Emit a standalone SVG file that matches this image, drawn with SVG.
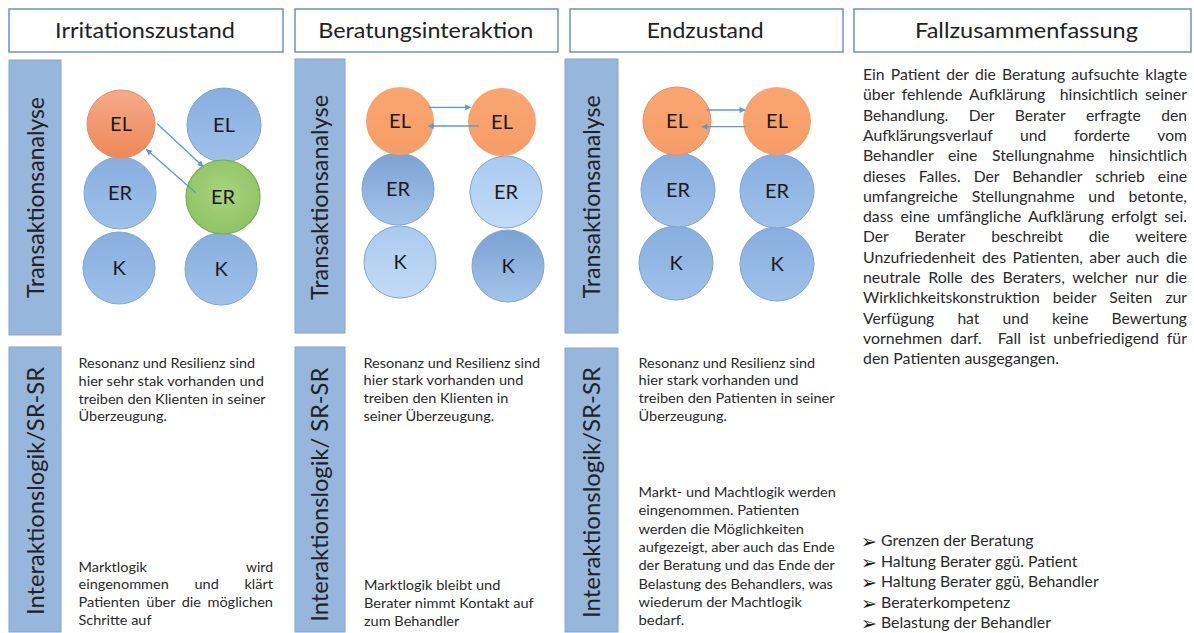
<svg xmlns="http://www.w3.org/2000/svg" width="1194" height="633" viewBox="0 0 1194 633">
  <defs>
    <linearGradient id="gBlue" x1="0" y1="0" x2="0" y2="1">
      <stop offset="0" stop-color="#88AEDF"/>
      <stop offset="1" stop-color="#9FC1EA"/>
    </linearGradient>
    <linearGradient id="gBlueDark" x1="0" y1="0" x2="0" y2="1">
      <stop offset="0" stop-color="#7CA2D3"/>
      <stop offset="1" stop-color="#A3C4EB"/>
    </linearGradient>
    <linearGradient id="gBlueLight" x1="0" y1="0" x2="0" y2="1">
      <stop offset="0" stop-color="#A9CAEF"/>
      <stop offset="1" stop-color="#C2DBF6"/>
    </linearGradient>
    <linearGradient id="gOrange" x1="0" y1="0" x2="0" y2="1">
      <stop offset="0" stop-color="#F6AA8A"/>
      <stop offset="1" stop-color="#EE8857"/>
    </linearGradient>
    <linearGradient id="gOrangeFlat" x1="0" y1="0" x2="0" y2="1">
      <stop offset="0" stop-color="#F9A673"/>
      <stop offset="1" stop-color="#F79C66"/>
    </linearGradient>
    <radialGradient id="gGreen" cx="0.5" cy="0.45" r="0.6">
      <stop offset="0" stop-color="#A8D47F"/>
      <stop offset="1" stop-color="#8DC263"/>
    </radialGradient>
    <marker id="arr" viewBox="0 0 10 10" refX="9" refY="5" markerWidth="7" markerHeight="6" orient="auto" markerUnits="userSpaceOnUse">
      <path d="M0,0 L10,5 L0,10 z" fill="#5B9BD5"/>
    </marker>
  </defs>
  <style>
    .hdr { fill: #ffffff; stroke: #6F8FC9; stroke-width: 1.5; }
    .bar { fill: #97B6DC; stroke: #86A6D0; stroke-width: 1; }
    .ht { font-family: Lato, "Liberation Sans", sans-serif; font-size: 22px; fill: #222222; }
    .vt { font-family: Lato, "Liberation Sans", sans-serif; font-size: 23px; fill: #222222; }
    .cl { font-family: Lato, "Liberation Sans", sans-serif; font-size: 20px; fill: #1A1A1A; text-anchor: middle; }
    .cb { stroke: #7EA4D6; stroke-width: 1; }
    .co { stroke: #E48E6A; stroke-width: 1; }
    .cg { stroke: #7AAD50; stroke-width: 1.2; }
    .bt { font-family: Lato, "Liberation Sans", sans-serif; font-size: 14px; fill: #2A2A2A; }
    .ft { font-family: Lato, "Liberation Sans", sans-serif; font-size: 15px; fill: #2A2A2A; }
    .bul { font-family: "DejaVu Sans", sans-serif; font-size: 19px; fill: #1A1A1A; }
    .conn { stroke: #5B9BD5; stroke-width: 1.3; fill: none; marker-end: url(#arr); }
  </style>

  <!-- column headers -->
  <g id="hdr-irritation">
    <rect class="hdr" x="9" y="9" width="274" height="43"/>
    <text class="ht" x="55" y="38" textLength="180" lengthAdjust="spacingAndGlyphs">Irritationszustand</text>
  </g>
  <g id="hdr-beratung">
    <rect class="hdr" x="295" y="9" width="263" height="43"/>
    <text class="ht" x="318.3" y="38" textLength="215" lengthAdjust="spacingAndGlyphs">Beratungsinteraktion</text>
  </g>
  <g id="hdr-end">
    <rect class="hdr" x="570" y="9" width="273" height="43"/>
    <text class="ht" x="646.7" y="38" textLength="117" lengthAdjust="spacingAndGlyphs">Endzustand</text>
  </g>
  <g id="hdr-fall">
    <rect class="hdr" x="854" y="9" width="337" height="43"/>
    <text class="ht" x="915" y="38" textLength="223" lengthAdjust="spacingAndGlyphs">Fallzusammenfassung</text>
  </g>

  <!-- row labels -->
  <g id="row-ta-1">
    <rect class="bar" x="9" y="60" width="52" height="275"/>
    <text class="vt" transform="translate(43.5,298) rotate(-90)" textLength="201" lengthAdjust="spacingAndGlyphs">Transaktionsanalyse</text>
  </g>
  <g id="row-ta-2">
    <rect class="bar" x="295" y="59" width="50" height="274"/>
    <text class="vt" transform="translate(328,300) rotate(-90)" textLength="205" lengthAdjust="spacingAndGlyphs">Transaktionsanalyse</text>
  </g>
  <g id="row-ta-3">
    <rect class="bar" x="565" y="59" width="53" height="274"/>
    <text class="vt" transform="translate(600,298.3) rotate(-90)" textLength="203" lengthAdjust="spacingAndGlyphs">Transaktionsanalyse</text>
  </g>
  <g id="row-il-1">
    <rect class="bar" x="9" y="347" width="52" height="285"/>
    <text class="vt" transform="translate(43.5,615) rotate(-90)" textLength="248" lengthAdjust="spacingAndGlyphs">Interaktionslogik/SR-SR</text>
  </g>
  <g id="row-il-2">
    <rect class="bar" x="295" y="347" width="50" height="285"/>
    <text class="vt" transform="translate(328,621.7) rotate(-90)" textLength="254" lengthAdjust="spacingAndGlyphs">Interaktionslogik/ SR-SR</text>
  </g>
  <g id="row-il-3">
    <rect class="bar" x="565" y="348" width="53" height="284"/>
    <text class="vt" transform="translate(600,618) rotate(-90)" textLength="251" lengthAdjust="spacingAndGlyphs">Interaktionslogik/SR-SR</text>
  </g>

  <!-- ego states: Irritationszustand -->
  <g id="p1-el-b"><circle class="cb" cx="224" cy="125" r="37" fill="url(#gBlue)"/><text class="cl" x="224" y="132">EL</text></g>
  <g id="p1-er-a"><circle class="cb" cx="120" cy="193" r="36" fill="url(#gBlue)"/><text class="cl" x="120" y="200">ER</text></g>
  <g id="p1-k-a"><circle class="cb" cx="119" cy="268" r="36" fill="url(#gBlue)"/><text class="cl" x="119" y="275">K</text></g>
  <g id="p1-k-b"><circle class="cb" cx="221" cy="269" r="36" fill="url(#gBlue)"/><text class="cl" x="221" y="276">K</text></g>
  <g id="p1-el-a"><circle class="co" cx="121" cy="124" r="34" fill="url(#gOrange)"/><text class="cl" x="121" y="131">EL</text></g>
  <g id="p1-er-b"><circle class="cg" cx="223" cy="197" r="37" fill="url(#gGreen)"/><text class="cl" x="223" y="204">ER</text></g>

  <!-- ego states: Beratungsinteraktion -->
  <g id="p2-er-a"><circle class="cb" cx="398" cy="189" r="36" fill="url(#gBlueDark)"/><text class="cl" x="398" y="196">ER</text></g>
  <g id="p2-er-b"><circle class="cb" cx="506" cy="192" r="36" fill="url(#gBlueLight)"/><text class="cl" x="506" y="199">ER</text></g>
  <g id="p2-k-a"><circle class="cb" cx="400" cy="262" r="36" fill="url(#gBlueLight)"/><text class="cl" x="400" y="269">K</text></g>
  <g id="p2-k-b"><circle class="cb" cx="508" cy="266" r="36" fill="url(#gBlueDark)"/><text class="cl" x="508" y="273">K</text></g>
  <g id="p2-el-a"><circle cx="400" cy="121" r="34" fill="url(#gOrangeFlat)"/><text class="cl" x="400" y="128">EL</text></g>
  <g id="p2-el-b"><circle cx="502" cy="122" r="34" fill="url(#gOrangeFlat)"/><text class="cl" x="502" y="129">EL</text></g>

  <!-- ego states: Endzustand -->
  <g id="p3-k-a"><circle class="cb" cx="676" cy="263" r="37" fill="url(#gBlue)"/><text class="cl" x="676" y="270">K</text></g>
  <g id="p3-k-b"><circle class="cb" cx="777" cy="264" r="37" fill="url(#gBlue)"/><text class="cl" x="777" y="271">K</text></g>
  <g id="p3-er-a"><circle class="cb" cx="678" cy="190" r="37" fill="url(#gBlue)"/><text class="cl" x="678" y="197">ER</text></g>
  <g id="p3-er-b"><circle class="cb" cx="777" cy="191" r="37" fill="url(#gBlue)"/><text class="cl" x="777" y="198">ER</text></g>
  <g id="p3-el-a"><circle class="co" cx="677" cy="121" r="34" fill="url(#gOrangeFlat)"/><text class="cl" x="677" y="128">EL</text></g>
  <g id="p3-el-b"><circle cx="777" cy="121" r="34" fill="url(#gOrangeFlat)"/><text class="cl" x="777" y="128">EL</text></g>

  <!-- transactions -->
  <g id="connectors">
    <line class="conn" x1="157" y1="123.5" x2="203" y2="166.5"/>
    <line class="conn" x1="196" y1="193" x2="146.5" y2="149.5"/>
    <line class="conn" x1="428.5" y1="107.3" x2="470.5" y2="107.3"/>
    <line class="conn" x1="479" y1="126" x2="428.5" y2="126"/>
    <line class="conn" x1="706.7" y1="110" x2="745" y2="110"/>
    <line class="conn" x1="745.5" y1="126.7" x2="702" y2="126.7"/>
  </g>

  <!-- Interaktionslogik texts -->
  <g id="p1-text">
    <text class="bt" x="78.5" y="368" textLength="176.7" lengthAdjust="spacingAndGlyphs">Resonanz und Resilienz sind</text>
    <text class="bt" x="78.5" y="385.8" textLength="185.4" lengthAdjust="spacingAndGlyphs">hier sehr stak vorhanden und</text>
    <text class="bt" x="78.5" y="403.6" textLength="187.1" lengthAdjust="spacingAndGlyphs">treiben den Klienten in seiner</text>
    <text class="bt" x="78.5" y="421.4" textLength="88.4" lengthAdjust="spacingAndGlyphs">Überzeugung.</text>
    <text class="bt" x="78.5" y="571.5" textLength="68.3" lengthAdjust="spacingAndGlyphs">Marktlogik</text>
    <text class="bt" x="273" y="571.5" text-anchor="end">wird</text>
    <text class="bt" x="78.5" y="589.3" textLength="194.5" lengthAdjust="spacingAndGlyphs" word-spacing="21.2">eingenommen und klärt</text>
    <text class="bt" x="78.5" y="607.1" textLength="194.5" lengthAdjust="spacingAndGlyphs" word-spacing="2.6">Patienten über die möglichen</text>
    <text class="bt" x="78.5" y="624.9" textLength="73" lengthAdjust="spacingAndGlyphs">Schritte auf</text>
  </g>
  <g id="p2-text">
    <text class="bt" x="363.5" y="367.5" textLength="176.7" lengthAdjust="spacingAndGlyphs">Resonanz und Resilienz sind</text>
    <text class="bt" x="363.5" y="385.3" textLength="159.9" lengthAdjust="spacingAndGlyphs">hier stark vorhanden und</text>
    <text class="bt" x="363.5" y="403.1" textLength="144.8" lengthAdjust="spacingAndGlyphs">treiben den Klienten in</text>
    <text class="bt" x="363.5" y="420.9" textLength="130.7" lengthAdjust="spacingAndGlyphs">seiner Überzeugung.</text>
    <text class="bt" x="364" y="590" textLength="136.3" lengthAdjust="spacingAndGlyphs">Marktlogik bleibt und</text>
    <text class="bt" x="364" y="607.8" textLength="169.7" lengthAdjust="spacingAndGlyphs">Berater nimmt Kontakt auf</text>
    <text class="bt" x="364" y="625.6" textLength="95.3" lengthAdjust="spacingAndGlyphs">zum Behandler</text>
  </g>
  <g id="p3-text">
    <text class="bt" x="638.5" y="367.5" textLength="176.7" lengthAdjust="spacingAndGlyphs">Resonanz und Resilienz sind</text>
    <text class="bt" x="638.5" y="385.3" textLength="159.9" lengthAdjust="spacingAndGlyphs">hier stark vorhanden und</text>
    <text class="bt" x="638.5" y="403.1" textLength="196.1" lengthAdjust="spacingAndGlyphs">treiben den Patienten in seiner</text>
    <text class="bt" x="638.5" y="420.9" textLength="88.4" lengthAdjust="spacingAndGlyphs">Überzeugung.</text>
    <text class="bt" x="638.5" y="497" textLength="197.3" lengthAdjust="spacingAndGlyphs">Markt- und Machtlogik werden</text>
    <text class="bt" x="638.5" y="515.3" textLength="160.6" lengthAdjust="spacingAndGlyphs">eingenommen. Patienten</text>
    <text class="bt" x="638.5" y="533.6" textLength="165.3" lengthAdjust="spacingAndGlyphs">werden die Möglichkeiten</text>
    <text class="bt" x="638.5" y="551.9" textLength="196.1" lengthAdjust="spacingAndGlyphs">aufgezeigt, aber auch das Ende</text>
    <text class="bt" x="638.5" y="570.2" textLength="196.3" lengthAdjust="spacingAndGlyphs">der Beratung und das Ende der</text>
    <text class="bt" x="638.5" y="588.5" textLength="194.4" lengthAdjust="spacingAndGlyphs">Belastung des Behandlers, was</text>
    <text class="bt" x="638.5" y="606.8" textLength="163.3" lengthAdjust="spacingAndGlyphs">wiederum der Machtlogik</text>
    <text class="bt" x="638.5" y="625.1" textLength="45.7" lengthAdjust="spacingAndGlyphs">bedarf.</text>
  </g>

  <!-- case summary, justified -->
  <g id="fall-text">
    <text class="ft" x="863" y="80" textLength="324" lengthAdjust="spacingAndGlyphs" word-spacing="2">Ein Patient der die Beratung aufsuchte klagte</text>
    <text class="ft" x="863" y="100.3" textLength="324" lengthAdjust="spacingAndGlyphs" word-spacing="3">über fehlende Aufklärung&#160; hinsichtlich seiner</text>
    <text class="ft" x="863" y="120.6" textLength="324" lengthAdjust="spacingAndGlyphs" word-spacing="15.8">Behandlung. Der Berater erfragte den</text>
    <text class="ft" x="863" y="140.9" textLength="324" lengthAdjust="spacingAndGlyphs" word-spacing="22.5">Aufklärungsverlauf und forderte vom</text>
    <text class="ft" x="863" y="161.2" textLength="324" lengthAdjust="spacingAndGlyphs" word-spacing="10">Behandler eine Stellungnahme hinsichtlich</text>
    <text class="ft" x="863" y="181.5" textLength="324" lengthAdjust="spacingAndGlyphs" word-spacing="8.6">dieses Falles. Der Behandler schrieb eine</text>
    <text class="ft" x="863" y="201.8" textLength="324" lengthAdjust="spacingAndGlyphs" word-spacing="9">umfangreiche Stellungnahme und betonte,</text>
    <text class="ft" x="863" y="222.1" textLength="324" lengthAdjust="spacingAndGlyphs" word-spacing="2.9">dass eine umfängliche Aufklärung erfolgt sei.</text>
    <text class="ft" x="863" y="242.4" textLength="324" lengthAdjust="spacingAndGlyphs" word-spacing="21.1">Der Berater beschreibt die weitere</text>
    <text class="ft" x="863" y="262.7" textLength="324" lengthAdjust="spacingAndGlyphs" word-spacing="2.3">Unzufriedenheit des Patienten, aber auch die</text>
    <text class="ft" x="863" y="283" textLength="324" lengthAdjust="spacingAndGlyphs" word-spacing="3.5">neutrale Rolle des Beraters, welcher nur die</text>
    <text class="ft" x="863" y="303.3" textLength="324" lengthAdjust="spacingAndGlyphs" word-spacing="8.7">Wirklichkeitskonstruktion beider Seiten zur</text>
    <text class="ft" x="863" y="323.6" textLength="324" lengthAdjust="spacingAndGlyphs" word-spacing="18.4">Verfügung hat und keine Bewertung</text>
    <text class="ft" x="863" y="343.9" textLength="324" lengthAdjust="spacingAndGlyphs" word-spacing="3.7">vornehmen darf.&#160; Fall ist unbefriedigend für</text>
    <text class="ft" x="863" y="364.2" textLength="195.9" lengthAdjust="spacingAndGlyphs">den Patienten ausgegangen.</text>
  </g>

  <!-- key points -->
  <g id="fall-points">
    <text class="bul" x="861" y="548">➢</text>
    <text class="ft" x="881" y="546" textLength="152.5" lengthAdjust="spacingAndGlyphs">Grenzen der Beratung</text>
    <text class="bul" x="861" y="568.5">➢</text>
    <text class="ft" x="881" y="566.5" textLength="196.4" lengthAdjust="spacingAndGlyphs">Haltung Berater ggü. Patient</text>
    <text class="bul" x="861" y="589">➢</text>
    <text class="ft" x="881" y="587" textLength="217.7" lengthAdjust="spacingAndGlyphs">Haltung Berater ggü, Behandler</text>
    <text class="bul" x="861" y="609.5">➢</text>
    <text class="ft" x="881" y="607.5" textLength="129.3" lengthAdjust="spacingAndGlyphs">Beraterkompetenz</text>
    <text class="bul" x="861" y="630">➢</text>
    <text class="ft" x="881" y="628" textLength="169.9" lengthAdjust="spacingAndGlyphs">Belastung der Behandler</text>
  </g>
</svg>
